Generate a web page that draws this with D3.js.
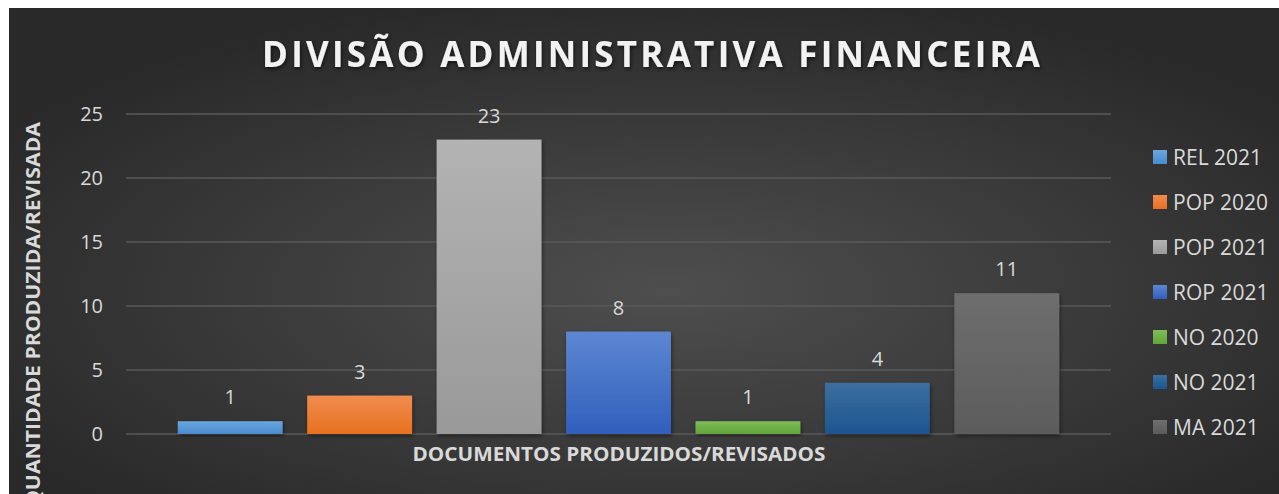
<!DOCTYPE html>
<html>
<head>
<meta charset="utf-8">
<script src="https://cdn.jsdelivr.net/npm/d3@7"></script>
<style>
  body { margin: 0; background: #ffffff; }
  svg { display: block; }
  text { font-family: "Open Sans", "Noto Sans", sans-serif; }
</style>
</head>
<body>
<svg id="chart" width="1279" height="494"></svg>
<script>
// chart data
var series = ['REL 2021', 'POP 2020', 'POP 2021', 'ROP 2021', 'NO 2020', 'NO 2021', 'MA 2021'];
var values = [1, 3, 23, 8, 1, 4, 11];
var yTicks = [0, 5, 10, 15, 20, 25];
var colorsTop = ['#6aa6dd', '#f08c4f', '#b3b3b3', '#5d87d2', '#7fbd58', '#3c6f9f', '#6e6e6e'];
var colorsBottom = ['#4a8bd0', '#e8701f', '#999999', '#305fbb', '#62a33a', '#1c5590', '#5c5c5c'];
var titleText = 'DIVISÃO ADMINISTRATIVA FINANCEIRA';
var xTitle = 'DOCUMENTOS PRODUZIDOS/REVISADOS';
var yTitle = 'QUANTIDADE PRODUZIDA/REVISADA';

var svg = d3.select('#chart');
var defs = svg.append('defs');

var bg = defs.append('radialGradient')
  .attr('id', 'bgGrad')
  .attr('cx', '52%').attr('cy', '58%').attr('r', '62%');
bg.append('stop').attr('offset', '0%').attr('stop-color', '#4e4e4e');
bg.append('stop').attr('offset', '100%').attr('stop-color', '#292929');

series.forEach(function (s, i) {
  var g = defs.append('linearGradient')
    .attr('id', 'barGrad' + i)
    .attr('x1', 0).attr('y1', 0).attr('x2', 0).attr('y2', 1);
  g.append('stop').attr('offset', '0%').attr('stop-color', colorsTop[i]);
  g.append('stop').attr('offset', '100%').attr('stop-color', colorsBottom[i]);
});

var shadow = defs.append('filter').attr('id', 'shadow')
  .attr('x', '-10%').attr('y', '-10%').attr('width', '130%').attr('height', '130%');
shadow.append('feDropShadow')
  .attr('dx', 1).attr('dy', 2).attr('stdDeviation', 2)
  .attr('flood-color', '#000').attr('flood-opacity', 0.45);

var titleShadow = defs.append('filter').attr('id', 'titleShadow')
  .attr('x', '-5%').attr('y', '-30%').attr('width', '110%').attr('height', '160%');
titleShadow.append('feDropShadow')
  .attr('dx', 1).attr('dy', 2).attr('stdDeviation', 2)
  .attr('flood-color', '#000').attr('flood-opacity', 0.6);

// chart area background
svg.append('rect')
  .attr('x', 9).attr('y', 8)
  .attr('width', 1270).attr('height', 486)
  .attr('fill', 'url(#bgGrad)');

var plotLeft = 126, plotRight = 1111;

var x = d3.scaleBand()
  .domain(series)
  .range([plotLeft, plotRight])
  .paddingInner(0.19)
  .paddingOuter(0.4);

var y = d3.scaleLinear()
  .domain([0, 25])
  .range([434, 114]);

// gridlines
svg.append('g')
  .selectAll('line')
  .data(yTicks)
  .enter()
  .append('line')
  .attr('x1', plotLeft)
  .attr('x2', plotRight)
  .attr('y1', function (d) { return y(d); })
  .attr('y2', function (d) { return y(d); })
  .attr('stroke', '#5a5a5a')
  .attr('stroke-width', 1.5);

// y axis labels
var yAxis = d3.axisLeft(y).tickValues(yTicks).tickSize(0).tickPadding(0);
var yG = svg.append('g')
  .attr('transform', 'translate(103,0)')
  .call(yAxis);
yG.select('.domain').remove();
yG.selectAll('text')
  .attr('fill', '#d9d9d9')
  .style('font-size', '20px')
  .style('font-family', '"Open Sans", sans-serif');

// bars
svg.append('g')
  .selectAll('rect')
  .data(values)
  .enter()
  .append('rect')
  .attr('x', function (d, i) { return x(series[i]); })
  .attr('y', function (d) { return y(d); })
  .attr('width', x.bandwidth())
  .attr('height', function (d) { return y(0) - y(d); })
  .attr('fill', function (d, i) { return 'url(#barGrad' + i + ')'; })
  .attr('filter', 'url(#shadow)');

// data labels
svg.append('g')
  .selectAll('text')
  .data(values)
  .enter()
  .append('text')
  .attr('x', function (d, i) { return x(series[i]) + x.bandwidth() / 2; })
  .attr('y', function (d) { return y(d) - 17; })
  .attr('text-anchor', 'middle')
  .attr('fill', '#d9d9d9')
  .style('font-size', '20px')
  .text(function (d) { return d; });

// title
svg.append('text')
  .attr('x', 651)
  .attr('y', 67)
  .attr('text-anchor', 'middle')
  .attr('fill', '#f2f2f2')
  .attr('filter', 'url(#titleShadow)')
  .attr('textLength', 778)
  .attr('lengthAdjust', 'spacing')
  .style('font-size', '35px')
  .style('font-weight', 'bold')
  .text(titleText);

// x axis title
svg.append('text')
  .attr('x', 619)
  .attr('y', 461)
  .attr('text-anchor', 'middle')
  .attr('fill', '#d9d9d9')
  .attr('textLength', 413)
  .attr('lengthAdjust', 'spacingAndGlyphs')
  .style('font-size', '19px')
  .style('font-weight', 'bold')
  .text(xTitle);

// y axis title
svg.append('text')
  .attr('transform', 'translate(40,122) rotate(-90)')
  .attr('text-anchor', 'end')
  .attr('fill', '#d9d9d9')
  .attr('textLength', 385)
  .attr('lengthAdjust', 'spacingAndGlyphs')
  .style('font-size', '19px')
  .style('font-weight', 'bold')
  .text(yTitle);

// legend
var legend = svg.append('g')
  .selectAll('g')
  .data(series)
  .enter()
  .append('g')
  .attr('transform', function (d, i) { return 'translate(1153,' + (150 + i * 45) + ')'; });

legend.append('rect')
  .attr('width', 14)
  .attr('height', 14)
  .attr('fill', function (d, i) { return 'url(#barGrad' + i + ')'; });

legend.append('text')
  .attr('x', 20)
  .attr('y', 15)
  .attr('fill', '#d9d9d9')
  .style('font-size', '21px')
  .text(function (d) { return d; });
</script>
</body>
</html>
